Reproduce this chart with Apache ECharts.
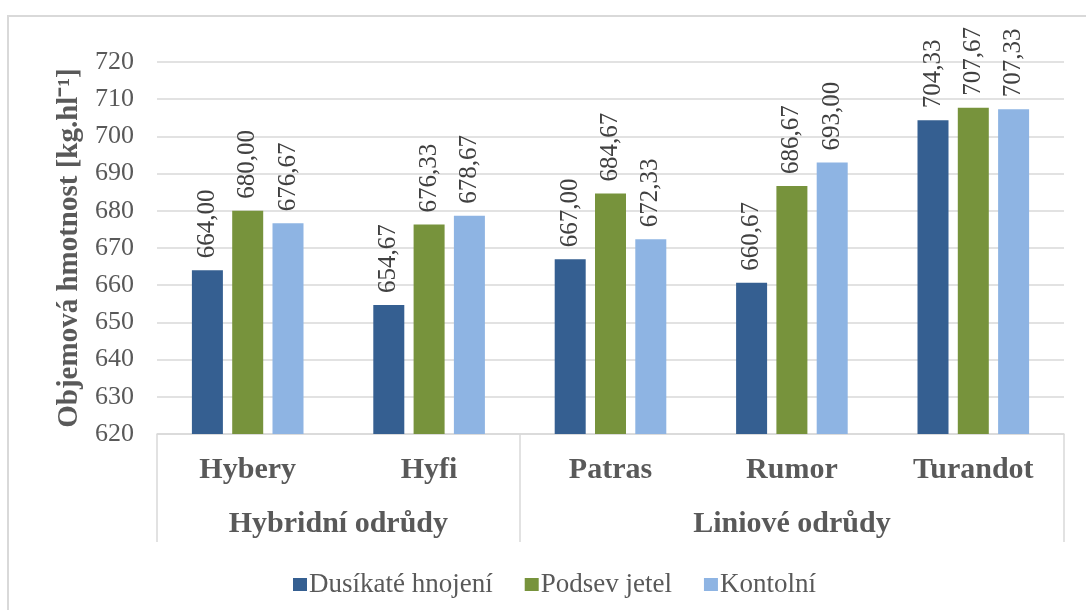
<!DOCTYPE html>
<html>
<head>
<meta charset="utf-8">
<script src="https://cdn.jsdelivr.net/npm/echarts@6/dist/echarts.min.js"></script>
<style>
  html, body { margin: 0; padding: 0; background: #ffffff; }
  #chart { width: 1086px; height: 610px; }
</style>
</head>
<body>
<div id="chart"></div>
<script>
// Varieties (inner axis level) and their groups (outer axis level)
const categories = ['Hybery', 'Hyfi', 'Patras', 'Rumor', 'Turandot'];
const groupNames = ['Hybridní odrůdy', 'Liniové odrůdy'];
const groupSizes = [2, 3];

// Treatments
const seriesNames = ['Dusíkaté hnojení', 'Podsev jetel', 'Kontolní'];
const dusikate = [664.00, 654.67, 667.00, 660.67, 704.33];
const podsev   = [680.00, 676.33, 684.67, 686.67, 707.67];
const kontrola = [676.67, 678.67, 672.33, 693.00, 707.33];

// Value axis
const yMin = 620;
const yMax = 720;
const yStep = 10;
const yTitle = 'Objemová hmotnost [kg.hl⁻¹]';

const FONT = 'Liberation Serif';
const TEXT = '#595959';
const LINE = '#d9d9d9';
const colors = ['#355f91', '#77933c', '#8eb4e3'];

// Group boundaries and centres along the 0..n category span
const bounds = [0];
groupSizes.forEach(s => bounds.push(bounds[bounds.length - 1] + s));
const centres = groupSizes.map((s, i) => bounds[i] + s / 2);

const fmt = v => v.toFixed(2).replace('.', ',');

const chart = echarts.init(document.getElementById('chart'), null, { renderer: 'canvas' });

const makeSeries = (name, data, i) => ({
  name: name,
  type: 'bar',
  xAxisIndex: 0,
  yAxisIndex: 0,
  data: data,
  barWidth: 31,
  barGap: '30%',
  itemStyle: { color: colors[i] },
  label: {
    show: true,
    position: 'top',
    rotate: 90,
    align: 'left',
    verticalAlign: 'middle',
    distance: 12,
    fontFamily: FONT,
    fontWeight: 'normal',
    fontSize: 25,
    color: '#404040',
    formatter: p => fmt(p.value)
  }
});

chart.setOption({
  backgroundColor: '#ffffff',
  animation: false,
  color: colors,
  textStyle: { fontFamily: FONT },
  graphic: [{
    type: 'rect',
    shape: { x: 8, y: 16, width: 1200, height: 700 },
    style: { fill: null, stroke: LINE, lineWidth: 2 },
    silent: true,
    z: -10
  }],
  grid: { left: 157, right: 22, top: 62, bottom: 176 },
  legend: {
    data: seriesNames,
    icon: 'rect',
    itemWidth: 14,
    itemHeight: 13,
    itemGap: 32,
    left: 288,
    top: 566,
    textStyle: { fontFamily: FONT, fontWeight: 'normal', fontSize: 27, color: TEXT, padding: [0, 0, 0, -3] }
  },
  xAxis: [{
    type: 'category',
    data: categories,
    position: 'bottom',
    axisLine: { show: true, lineStyle: { color: LINE, width: 1.5 } },
    axisTick: { show: false },
    axisLabel: {
      margin: 21,
      fontFamily: FONT,
      fontSize: 30,
      fontWeight: 'bold',
      color: TEXT
    },
    splitLine: { show: false }
  }, {
    type: 'value',
    min: bounds[0],
    max: bounds[bounds.length - 1],
    position: 'bottom',
    axisLine: { show: false },
    splitLine: { show: false },
    axisTick: {
      show: true,
      customValues: bounds,
      length: 108,
      lineStyle: { color: LINE, width: 1.5 }
    },
    axisLabel: {
      customValues: centres,
      margin: 75,
      fontFamily: FONT,
      fontSize: 30,
      fontWeight: 'bold',
      color: TEXT,
      formatter: v => {
        const i = centres.indexOf(v);
        return i >= 0 ? groupNames[i] : '';
      }
    }
  }],
  yAxis: {
    type: 'value',
    min: yMin,
    max: yMax,
    interval: yStep,
    name: yTitle,
    nameLocation: 'middle',
    nameRotate: 90,
    nameGap: 87,
    nameTextStyle: {
      fontFamily: FONT,
      fontSize: 29,
      fontWeight: 'bold',
      color: TEXT,
      verticalAlign: 'middle'
    },
    axisLine: { show: false },
    axisTick: { show: false },
    axisLabel: {
      margin: 23,
      fontFamily: FONT,
      fontWeight: 'normal',
      fontSize: 26,
      color: TEXT
    },
    splitLine: { show: true, lineStyle: { color: LINE, width: 1.5 } }
  },
  series: [
    makeSeries(seriesNames[0], dusikate, 0),
    makeSeries(seriesNames[1], podsev, 1),
    makeSeries(seriesNames[2], kontrola, 2)
  ]
});
</script>
</body>
</html>
